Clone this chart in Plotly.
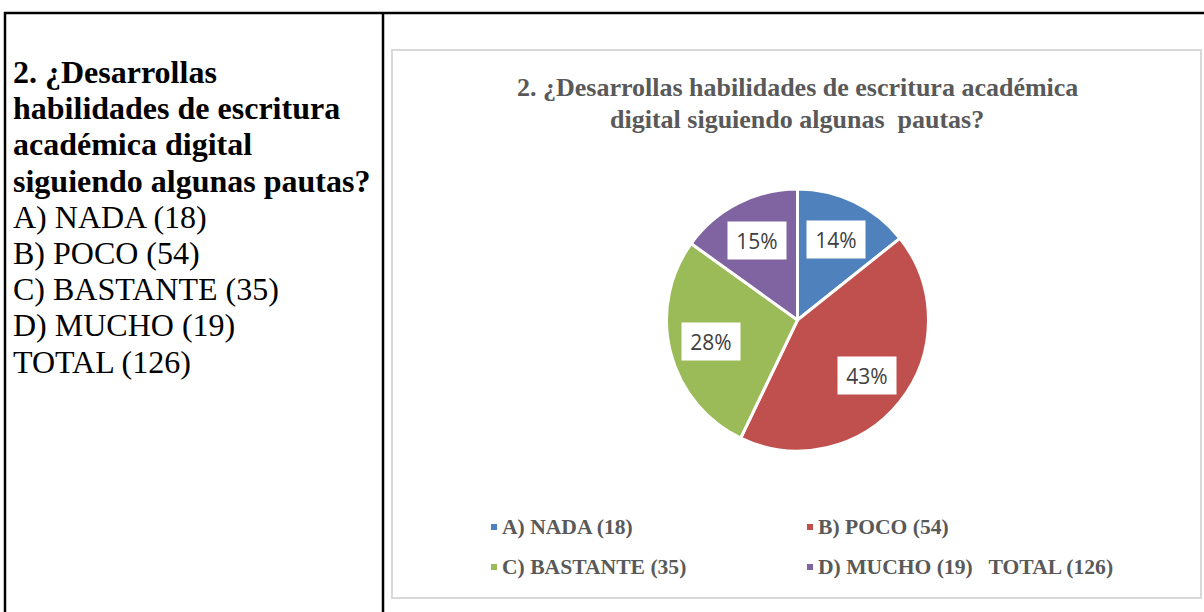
import math
import plotly.graph_objects as go

# ---- data ----
categories = ["A) NADA (18)", "B) POCO (54)", "C) BASTANTE (35)", "D) MUCHO (19)   TOTAL (126)"]
values = [18, 54, 35, 19]
colors = ["#4F81BD", "#C0504D", "#9BBB59", "#8064A2"]
title_lines = ["2. ¿Desarrollas habilidades de escritura académica",
               "digital siguiendo algunas  pautas?"]
left_bold_lines = ["2. ¿Desarrollas", "habilidades de escritura",
                   "académica digital", "siguiendo algunas pautas?"]
left_plain_lines = ["A) NADA (18)", "B) POCO (54)", "C) BASTANTE (35)",
                    "D) MUCHO (19)", "TOTAL (126)"]

W, H = 1204, 612
def px(x): return x / W
def py(y): return 1 - y / H

# pie geometry (pixels)
CX, CY, R = 797.5, 320.0, 131.0

fig = go.Figure()

fig.add_trace(go.Pie(
    labels=categories, values=values, sort=False, direction="clockwise",
    rotation=0, textinfo="none", hoverinfo="label+value+percent",
    marker=dict(colors=colors, line=dict(color="white", width=3)),
    domain=dict(x=[px(CX - R), px(CX + R)], y=[py(CY + R), py(CY - R)]),
    showlegend=False,
))

shapes = []
# table lines
shapes.append(dict(type="line", xref="paper", yref="paper", x0=px(4), x1=px(1204), y0=py(13), y1=py(13),
                   line=dict(color="black", width=2.5)))
shapes.append(dict(type="line", xref="paper", yref="paper", x0=px(5), x1=px(5), y0=py(12), y1=py(612),
                   line=dict(color="black", width=2.5)))
shapes.append(dict(type="line", xref="paper", yref="paper", x0=px(383), x1=px(383), y0=py(12), y1=py(612),
                   line=dict(color="black", width=2.5)))
# chart box
shapes.append(dict(type="rect", xref="paper", yref="paper", x0=px(392), x1=px(1201), y0=py(598), y1=py(50),
                   line=dict(color="#D9D9D9", width=2), fillcolor="rgba(0,0,0,0)", layer="below"))

annotations = []
# percent labels
total = sum(values)
cum = 0.0
for v in values:
    mid = (cum + v / 2) / total * 2 * math.pi
    cum += v
    r = 0.68 * R
    x = CX + r * math.sin(mid)
    y = CY - r * math.cos(mid)
    annotations.append(dict(xref="paper", yref="paper", x=px(x), y=py(y), xanchor="center", yanchor="middle",
                            text=f"{round(v / total * 100)}%", showarrow=False, bgcolor="white",
                            width=56, height=35, borderpad=1,
                            font=dict(family="Open Sans", size=21, color="#404040")))

# chart title
for i, t in enumerate(title_lines):
    annotations.append(dict(xref="paper", yref="paper", x=px(797), y=py(88 + 32 * i), xanchor="center",
                            yanchor="middle", text=f"<b>{t}</b>", showarrow=False,
                            font=dict(family="Liberation Serif", size=26, color="#595959")))

# legend
leg_pos = [(491, 527), (807, 527), (491, 567), (807, 567)]
for (lx, ly), lab, col in zip(leg_pos, categories, colors):
    shapes.append(dict(type="rect", xref="paper", yref="paper", x0=px(lx), x1=px(lx + 6),
                       y0=py(ly + 3), y1=py(ly - 3), line=dict(width=0), fillcolor=col))
    annotations.append(dict(xref="paper", yref="paper", x=px(lx + 9), y=py(ly), xanchor="left",
                            yanchor="middle", text=f"<b>{lab}</b>", showarrow=False,
                            font=dict(family="Liberation Serif", size=21.6, color="#595959")))

# left cell text
lines = [(f"<b>{t}</b>") for t in left_bold_lines] + left_plain_lines
for i, t in enumerate(lines):
    annotations.append(dict(xref="paper", yref="paper", x=px(11), y=py(72 + 36.2 * i), xanchor="left",
                            yanchor="middle", text=t, showarrow=False,
                            font=dict(family="Liberation Serif", size=32, color="black")))

fig.update_layout(
    width=W, height=H, margin=dict(l=0, r=0, t=0, b=0),
    paper_bgcolor="white", plot_bgcolor="white",
    shapes=shapes, annotations=annotations, showlegend=False,
)

fig.write_html("out.html", config={"displayModeBar": False},
               post_script="document.body.style.margin='0';document.body.style.overflow='hidden';")
